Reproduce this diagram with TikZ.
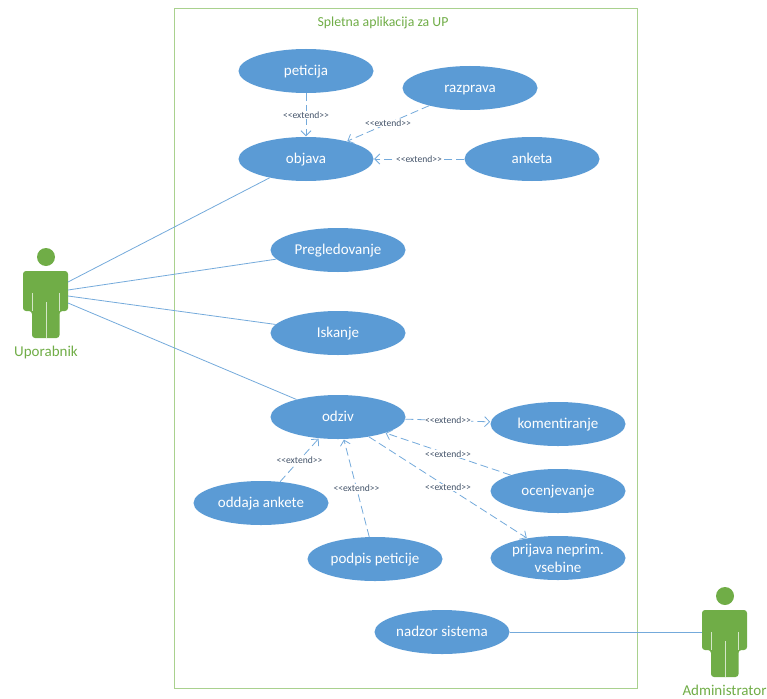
\documentclass[tikz,border=0pt]{standalone}
\usepackage{fontspec}
\setmainfont{Carlito}
\usetikzlibrary{shapes.geometric,arrows.meta}
\definecolor{ucblue}{HTML}{5B9BD5}
\definecolor{ucgreen}{HTML}{70AD47}
\definecolor{frameg}{HTML}{A9D18E}
\definecolor{extcol}{HTML}{44546A}
\newcommand{\extlabel}{<{}<extend>{}>}
\tikzset{
  uc/.style={ellipse,fill=ucblue,text=white,minimum width=135pt,minimum height=44pt,inner sep=0pt,font=\fontsize{15}{18}\selectfont,align=center,text height=10.5pt,text depth=1.5pt},
  ext/.style={ucblue!85!white,dashed,dash pattern=on 8pt off 4pt,line width=0.8pt,-{Straight Barb[length=5pt,width=10pt]},shorten >=0.5pt},
  extlab/.style={midway,fill=white,inner sep=0.5pt,text=extcol,font=\fontsize{9.6}{11}\selectfont},
  assoc/.style={ucblue!85!white,line width=0.8pt},
  actorname/.style={text=ucgreen,font=\fontsize{15}{17}\selectfont},
  actor/.pic={
    \fill[ucgreen] (0,0) circle (9);
    \fill[ucgreen,rounded corners=3pt] (-23,14) -- (22,14) -- (22,54) -- (13.5,54) -- (13.5,81) -- (-14,81) -- (-14,54) -- (-23,54) -- cycle;
    \draw[white,opacity=0.7,line width=0.8pt] (-14,36) -- (-14,54) (13.5,36) -- (13.5,54) (0,45) -- (0,81);
  }
}
\begin{document}
\begin{tikzpicture}[x=1pt,y=-1pt]
\useasboundingbox (0,0) rectangle (767,698);
% system boundary
\node (sistem) at (405.5,348.5) [draw=frameg,line width=1pt,minimum width=463pt,minimum height=679pt,inner sep=0pt] {};
\node (naslov) at (383,23) [text=ucgreen,font=\fontsize{13.8}{15}\selectfont] {Spletna aplikacija za UP};
% use cases
\node (peticija) at (306,71) [uc] {peticija};
\node (razprava) at (470,88) [uc] {razprava};
\node (objava) at (306,159) [uc] {objava};
\node (anketa) at (532,159) [uc] {anketa};
\node (pregled) at (338,250) [uc] {Pregledovanje};
\node (iskanje) at (338,333) [uc] {Iskanje};
\node (odziv) at (338,417) [uc] {odziv};
\node (komentar) at (558,424) [uc] {komentiranje};
\node (ocena) at (558,491) [uc] {ocenjevanje};
\node (prijava) at (558,558) [uc,text height=,text depth=] {prijava neprim.\\vsebine};
\node (oddaja) at (261,503) [uc] {oddaja ankete};
\node (podpis) at (375,559) [uc] {podpis peticije};
\node (nadzor) at (442,632) [uc] {nadzor sistema};
% actors
\pic at (46,257) {actor};
\pic at (725,596) {actor};
\node (uporabnik) at (46,352) [actorname] {Uporabnik};
\node (administrator) at (724.5,690) [actorname] {Administrator};
\coordinate (u1) at (68,282);
\coordinate (u2) at (68,290);
\coordinate (u3) at (68,296);
\coordinate (u4) at (68,303);
\coordinate (a1) at (702,632);
% associations
\draw[assoc] (u1) -- (objava);
\draw[assoc] (u2) -- (pregled);
\draw[assoc] (u3) -- (iskanje);
\draw[assoc] (u4) -- (odziv);
\draw[assoc] (nadzor) -- (a1);
% extend
\draw[ext] (peticija) -- node[extlab] (e1) {\extlabel} (objava);
\draw[ext] (razprava) -- node[extlab] (e2) {\extlabel} (objava);
\draw[ext] (anketa) -- node[extlab] (e3) {\extlabel} (objava);
\draw[ext] (odziv) -- node[extlab] (e4) {\extlabel} (komentar);
\draw[ext] (ocena) -- node[extlab] (e5) {\extlabel} (odziv);
\draw[ext] (odziv) -- node[extlab] (e6) {\extlabel} (prijava);
\draw[ext] (oddaja) -- node[extlab] (e7) {\extlabel} (odziv);
\draw[ext] (podpis) -- node[extlab] (e8) {\extlabel} (odziv);
\end{tikzpicture}
\end{document}
